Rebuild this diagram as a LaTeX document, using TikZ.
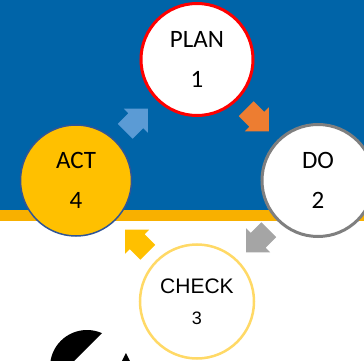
\documentclass[tikz,border=0pt]{standalone}
\usepackage{fontspec}
\setmainfont{Carlito}
\newfontfamily\checkfont{Liberation Sans}
\definecolor{bandblue}{RGB}{0,100,168}
\definecolor{bandgold}{RGB}{248,176,0}
\definecolor{planred}{RGB}{255,0,0}
\definecolor{dogray}{RGB}{127,127,127}
\definecolor{checkyellow}{RGB}{255,217,102}
\definecolor{actgold}{RGB}{255,192,0}
\definecolor{actblue}{RGB}{47,85,151}
\definecolor{arroworange}{RGB}{237,125,49}
\definecolor{arrowgray}{RGB}{165,165,165}
\definecolor{arrowblue}{RGB}{91,155,213}
\newcommand{\turnshape}{(16,0) -- (-1,17) -- (-1,10.5) -- (-16,10.5) -- (-16,-10.5) -- (-1,-10.5) -- (-1,-17) -- cycle}
\tikzset{
  stage/.style={circle, fill=white, minimum size=112pt, inner sep=0pt, line width=3pt,
    align=center, font=\fontsize{25}{40}\selectfont},
  turn/.style={shift={(#1)}}
}

\begin{document}
\begin{tikzpicture}[x=1pt,y=1pt]
  \useasboundingbox (-197,-180.5) rectangle (167,180.5);
  \clip (-197,-180.5) rectangle (167,180.5);
  % background bands
  \fill[bandblue] (-197,-29.5) rectangle (167,180.5);
  \fill[bandgold] (-197,-40.5) rectangle (167,-29.5);
  % cut pie at the bottom
  \begin{scope}
    \clip (-160,-217.5) -- (-60,-117.5) -- (-200,-117.5) -- (-200,-217.5) -- cycle;
    \fill (-110,-186.5) circle (37);
  \end{scope}
  \fill (-71,-172.5) -- (-67,-180.5) -- (-75,-180.5) -- cycle;
  % the four stages
  \draw
    (90:121) node[stage, draw=planred] (plan) {PLAN\\1}
    (0:121) node[stage, draw=dogray] (do) {DO\\2}
    (270:121) node[stage, draw=checkyellow, line width=2.5pt, minimum size=114pt,
      font=\checkfont\fontsize{21}{31}\selectfont] (check) {CHECK\\{\fontsize{18}{31}\selectfont 3}}
    (180:121) node[stage, fill=actgold, draw=actblue, line width=1.5pt,
      minimum size=111pt] (act) {ACT\\4};
  % arrows between the stages
  \path (plan.center) -- coordinate[midway] (plando) (do.center);
  \path (do.center) -- coordinate[midway] (docheck) (check.center);
  \path (check.center) -- coordinate[midway] (checkact) (act.center);
  \path (act.center) -- coordinate[midway] (actplan) (plan.center);
  \fill[arroworange, turn=plando, rotate=-45] \turnshape;
  \fill[arrowgray, turn=docheck, rotate=-135] \turnshape;
  \fill[actgold, turn=checkact, rotate=135] \turnshape;
  \fill[arrowblue, turn=actplan, rotate=45] \turnshape;
\end{tikzpicture}
\end{document}
